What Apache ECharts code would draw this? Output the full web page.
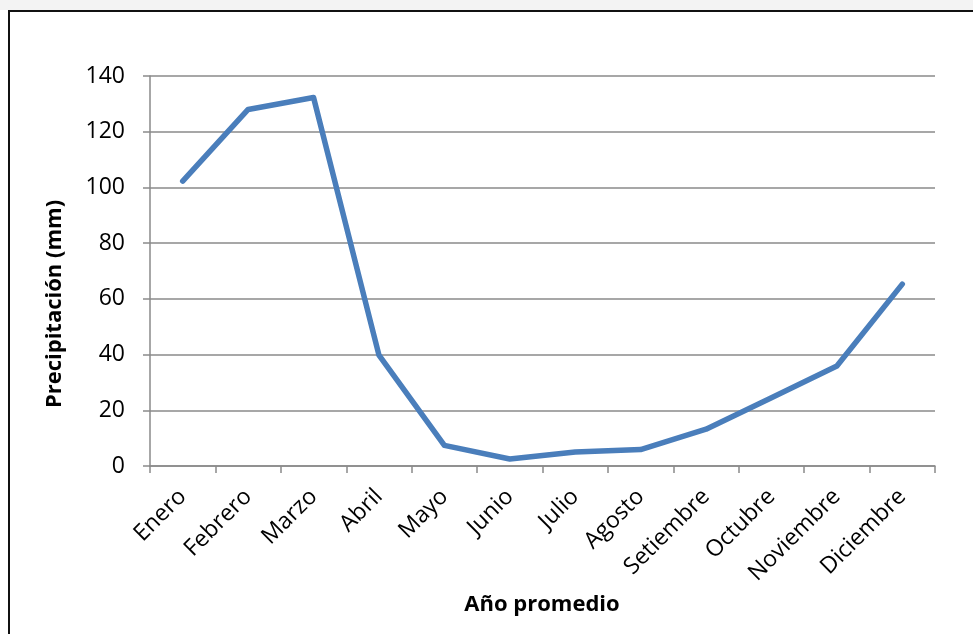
<!DOCTYPE html>
<html>
<head>
<meta charset="utf-8">
<script src="https://cdn.jsdelivr.net/npm/echarts@6/dist/echarts.min.js"></script>
<style>
  html, body { margin: 0; padding: 0; background: #fff; }
  #chart { width: 973px; height: 634px; }
</style>
</head>
<body>
<div id="chart"></div>
<script>
// Monthly mean precipitation (mm)
const months = ['Enero', 'Febrero', 'Marzo', 'Abril', 'Mayo', 'Junio', 'Julio', 'Agosto', 'Setiembre', 'Octubre', 'Noviembre', 'Diciembre'];
const precipitation = [102.3, 128.0, 132.3, 39.8, 7.4, 2.5, 5.0, 5.9, 13.2, 24.5, 35.9, 65.3];
const yTicks = [0, 20, 40, 60, 80, 100, 120, 140];

const axisGray = '#8a8a8a';
const font = '"Open Sans", "Liberation Sans", sans-serif';

const chart = echarts.init(document.getElementById('chart'), null, { renderer: 'canvas' });

chart.setOption({
  animation: false,
  backgroundColor: '#ffffff',
  grid: { left: 150, right: 38, top: 76, bottom: 168, containLabel: false },
  graphic: [
    { type: 'rect', silent: true, z: -10, shape: { x: 0, y: 0, width: 973, height: 10 }, style: { fill: '#f3f3f3' } },
    { type: 'rect', silent: true, z: 10, shape: { x: 9, y: 11, width: 1000, height: 700 }, style: { fill: 'none', stroke: '#111', lineWidth: 2 } },
    {
      type: 'text', silent: true, z: 10,
      x: 55, y: 304, rotation: Math.PI / 2,
      style: {
        text: 'Precipitación (mm)', fill: '#000',
        font: 'bold 22px ' + font,
        textAlign: 'center', textVerticalAlign: 'middle'
      }
    },
    {
      type: 'text', silent: true, z: 10,
      x: 542, y: 605,
      style: {
        text: 'Año promedio', fill: '#000',
        font: 'bold 22px ' + font,
        textAlign: 'center', textVerticalAlign: 'middle'
      }
    }
  ],
  xAxis: {
    type: 'category',
    data: months,
    boundaryGap: true,
    axisLine: { show: true, lineStyle: { color: axisGray, width: 1.5 } },
    axisTick: { show: true, length: 7, alignWithLabel: false, lineStyle: { color: axisGray, width: 1.5 } },
    axisLabel: {
      rotate: 45, margin: 27, interval: 0,
      color: '#000', fontFamily: font, fontSize: 23
    },
    splitLine: { show: false }
  },
  yAxis: {
    type: 'value',
    min: yTicks[0], max: yTicks[yTicks.length - 1], interval: 20,
    axisLine: { show: true, lineStyle: { color: axisGray, width: 1.5 } },
    axisTick: { show: true, length: 7, lineStyle: { color: axisGray, width: 1.5 } },
    axisLabel: { margin: 25, color: '#000', fontFamily: font, fontSize: 23 },
    splitLine: { show: true, lineStyle: { color: axisGray, width: 1.5 } }
  },
  series: [{
    type: 'line',
    data: precipitation,
    showSymbol: false,
    symbol: 'none',
    lineStyle: { color: '#4a7ebb', width: 5.5, cap: 'round', join: 'round' },
    z: 5
  }]
});
</script>
</body>
</html>
